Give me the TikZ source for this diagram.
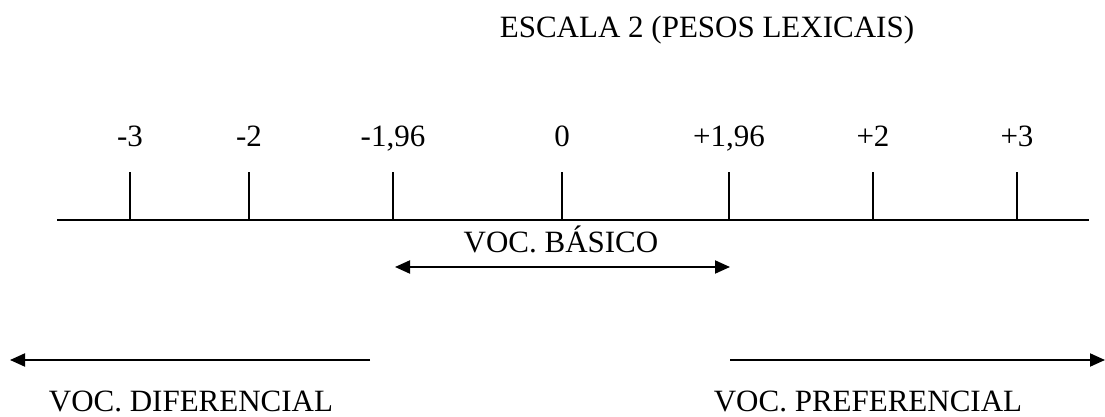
\documentclass[tikz,border=0pt]{standalone}
\usepackage{fontspec}
\setmainfont{Liberation Serif}
\usetikzlibrary{arrows.meta}
\tikzset{
    rotulo/.style={anchor=base, inner sep=0pt, font=\fontsize{15.5}{18}\selectfont},
    seta/.style={line width=1pt, -{Triangle[length=7.5pt, width=6.5pt]}},
    marca/.style={line width=0.7pt}
}

\begin{document}
\begin{tikzpicture}[x=0.5pt, y=-0.5pt]

\useasboundingbox (0,0) rectangle (1105,417);

\node[rotulo] (titulo) at (707,38) {ESCALA 2 (PESOS LEXICAIS)};

\coordinate (E0) at (57,220);
\coordinate (E1) at (1089,220);

% Eixo da escala
\draw[line width=1pt] (E0) -- (E1);

% Marcas e valores sobre o eixo
\foreach \x/\v/\n in {130/-3/a, 249/-2/b, 393/{-1,96}/c, 562/0/d,
                      729/{+1,96}/e, 873/+2/f, 1017/+3/g} {
    \coordinate (T\n) at (\x,220);
    \coordinate (S\n) at (\x,172);
    \draw[marca] (T\n) -- (S\n);
    \node[rotulo] (L\n) at (\x,147) {\v};
}

% Vocabulario basico
\coordinate (B0) at (395,267);
\coordinate (B1) at (730,267);
\node[rotulo] (basico) at (561,253) {VOC. BÁSICO};
\draw[seta, {Triangle[length=7.5pt, width=6.5pt]}-{Triangle[length=7.5pt, width=6.5pt]}] (B0) -- (B1);

% Vocabulario diferencial e preferencial
\coordinate (D0) at (370,360);
\coordinate (D1) at (10,360);
\draw[seta] (D0) -- (D1);
\node[rotulo] (diferencial) at (191,411) {VOC. DIFERENCIAL};

\coordinate (P0) at (730,360);
\coordinate (P1) at (1105,360);
\draw[seta] (P0) -- (P1);
\node[rotulo] (preferencial) at (868,411) {VOC. PREFERENCIAL};

\end{tikzpicture}
\end{document}
